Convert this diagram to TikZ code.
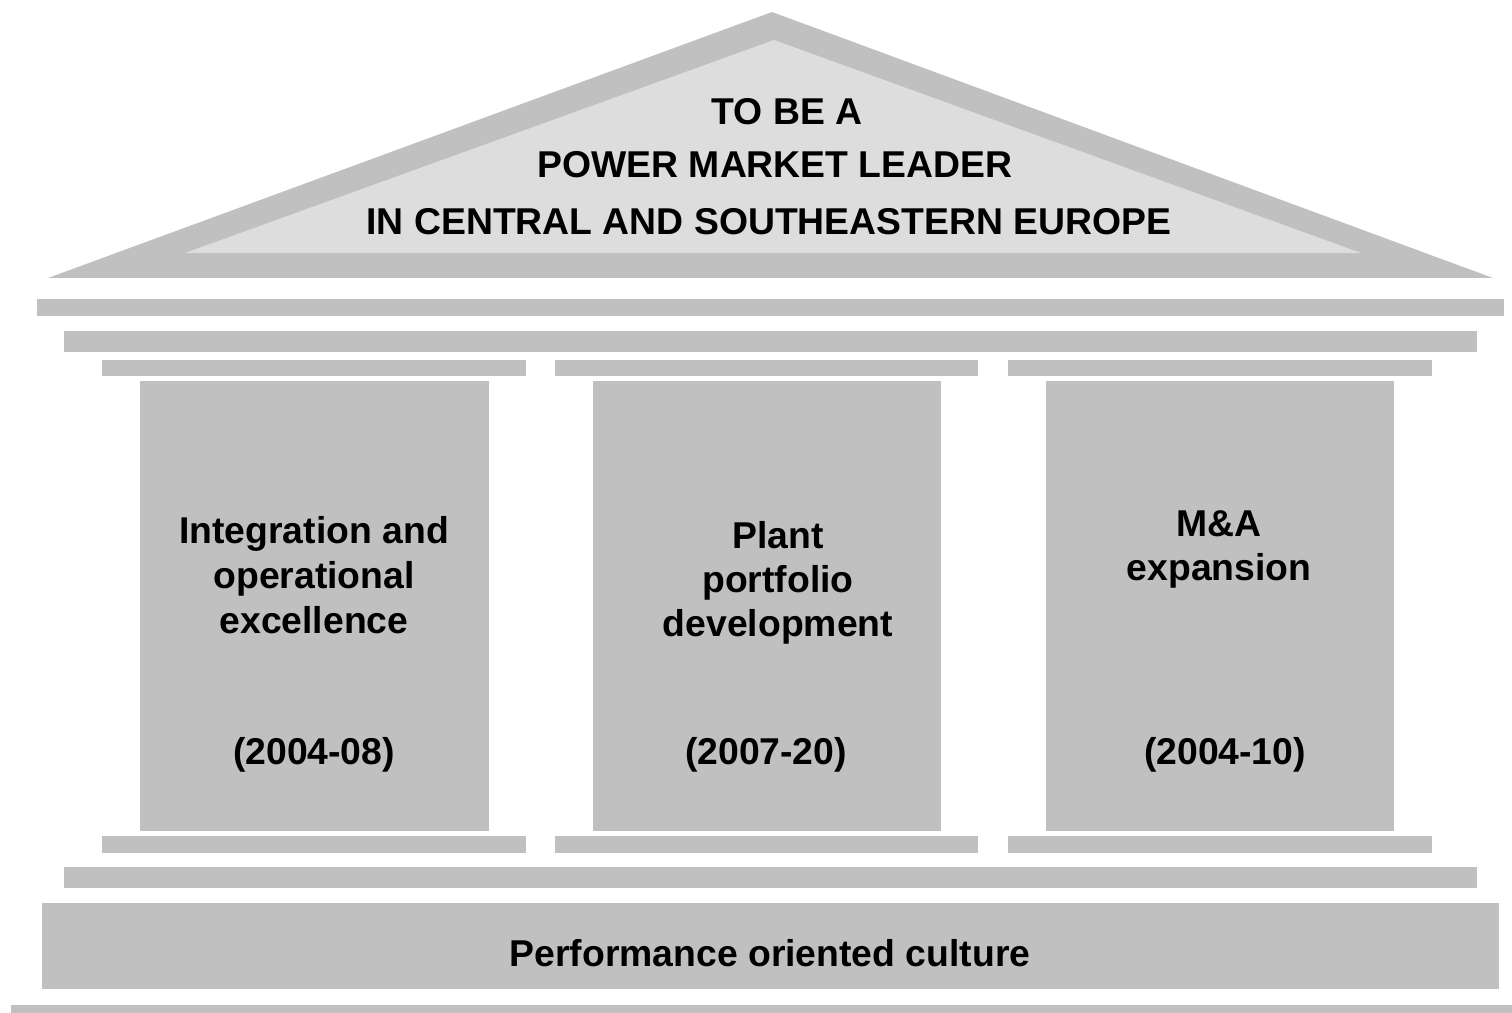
\documentclass[tikz,border=0pt]{standalone}
\usepackage{fontspec}
\setmainfont{Liberation Sans}
\definecolor{pillargray}{HTML}{C0C0C0}
\definecolor{rooflight}{HTML}{DDDDDD}

\begin{document}
\begin{tikzpicture}[x=0.02cm,y=-0.02cm]
  \tikzset{
    txt/.style={font=\bfseries\fontsize{21.25}{25}\selectfont, anchor=base, inner sep=0pt},
    block/.style={fill=pillargray}
  }
  \useasboundingbox (0,0) rectangle (1512,1013);

  % 屋根
  \fill[block, line join=round] (48,278) -- (772,12) -- (1493,278) -- cycle;
  \fill[rooflight] (185,253) -- (774,40) -- (1361,253) -- cycle;

  % 屋根の文字
  \node[txt] (roofa) at (787,125) {TO BE A};
  \node[txt] (roofb) at (775,178) {POWER MARKET LEADER};
  \node[txt] (roofc) at (769,235) {IN CENTRAL AND SOUTHEASTERN EUROPE};

  % 梁
  \fill[block] (37,299) rectangle (1504,316);
  \fill[block] (64,331) rectangle (1477,352);

  % 柱頭と柱
  \fill[block] (102,360) rectangle (526,376);
  \fill[block] (555,360) rectangle (978,376);
  \fill[block] (1008,360) rectangle (1432,376);
  \fill[block] (140,381) rectangle (489,831);
  \fill[block] (593,381) rectangle (941,831);
  \fill[block] (1046,381) rectangle (1394,831);
  \fill[block] (102,836) rectangle (526,853);
  \fill[block] (555,836) rectangle (978,853);
  \fill[block] (1008,836) rectangle (1432,853);

  % 柱の文字
  \node[txt] (leftA) at (314,543) {Integration and};
  \node[txt] (leftB) at (314,588) {operational};
  \node[txt] (leftC) at (314,633) {excellence};
  \node[txt] (leftD) at (314,764) {(2004-08)};

  \node[txt] (midA) at (778,548) {Plant};
  \node[txt] (midB) at (778,592) {portfolio};
  \node[txt] (midC) at (778,636) {development};
  \node[txt] (midD) at (766,764) {(2007-20)};

  \node[txt] (rightA) at (1219,537) {M\&A};
  \node[txt] (rightB) at (1219,581) {expansion};
  \node[txt] (rightD) at (1225,764) {(2004-10)};

  % 土台
  \fill[block] (64,867) rectangle (1477,888);
  \fill[block] (42,903) rectangle (1499,989);
  \fill[block] (11,1005) rectangle (1512,1013);
  \node[txt] (base) at (770,966) {Performance oriented culture};
\end{tikzpicture}
\end{document}
